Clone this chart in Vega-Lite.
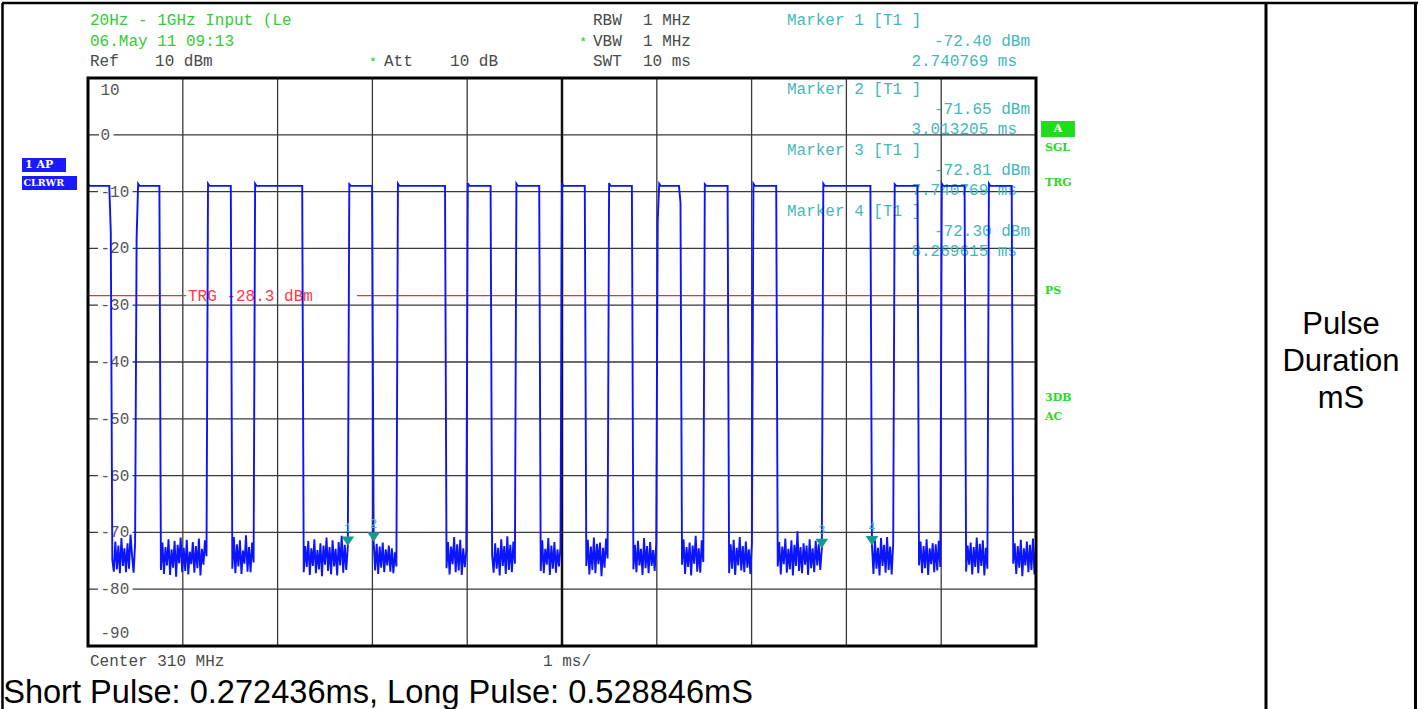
{
  "$schema": "https://vega.github.io/schema/vega-lite/v6.json",
  "width": 948,
  "height": 568,
  "autosize": {"type": "none"},
  "padding": {"left": 88, "top": 78, "right": 386, "bottom": 63},
  "background": "white",
  "config": {"view": {"stroke": null}},
  "data": {"values": [{}]},
  "datasets": {
    "trace": [
      {"t":0,"p":-8.6},{"t":0.016,"p":-9.0},{"t":0.2244,"p":-9.0},{"t":0.2404,"p":-17.2},
      {"t":0.2564,"p":-74.8},{"t":0.2724,"p":-76.9},{"t":0.2885,"p":-71.6},{"t":0.3045,"p":-76.5},{"t":0.3205,"p":-72.3},{"t":0.3365,"p":-77.2},{"t":0.3526,"p":-71.0},{"t":0.3686,"p":-75.9},{"t":0.3846,"p":-72.8},{"t":0.4006,"p":-77.0},{"t":0.4167,"p":-71.9},{"t":0.4327,"p":-76.4},{"t":0.4487,"p":-70.4},{"t":0.4647,"p":-74.1},{"t":0.4808,"p":-77.1},{"t":0.4968,"p":-72.0},
      {"t":0.5128,"p":-18.2},{"t":0.5288,"p":-8.6},{"t":0.5449,"p":-9.0},{"t":0.7532,"p":-9.0},
      {"t":0.7692,"p":-76.6},{"t":0.7853,"p":-71.8},{"t":0.8013,"p":-77.3},{"t":0.8173,"p":-72.6},{"t":0.8333,"p":-75.8},{"t":0.8494,"p":-71.2},{"t":0.8654,"p":-77.5},{"t":0.8814,"p":-73.0},{"t":0.8974,"p":-76.2},{"t":0.9135,"p":-71.5},{"t":0.9295,"p":-77.8},{"t":0.9455,"p":-72.2},{"t":0.9615,"p":-75.4},{"t":0.9776,"p":-70.9},{"t":0.9936,"p":-77.0},{"t":1.0096,"p":-72.7},{"t":1.0256,"p":-76.8},{"t":1.0417,"p":-71.3},{"t":1.0577,"p":-77.4},{"t":1.0737,"p":-73.4},{"t":1.0897,"p":-75.6},{"t":1.1058,"p":-71.7},{"t":1.1218,"p":-77.1},{"t":1.1378,"p":-72.4},{"t":1.1538,"p":-76.3},{"t":1.1699,"p":-71.1},{"t":1.1859,"p":-77.6},{"t":1.2019,"p":-72.9},{"t":1.2179,"p":-75.7},{"t":1.234,"p":-71.4},{"t":1.25,"p":-74.2},
      {"t":1.266,"p":-8.6},{"t":1.2821,"p":-9.0},{"t":1.5064,"p":-9.0},
      {"t":1.5224,"p":-76.4},{"t":1.5385,"p":-70.8},{"t":1.5545,"p":-77.2},{"t":1.5705,"p":-72.1},{"t":1.5865,"p":-76.0},{"t":1.6026,"p":-71.4},{"t":1.6186,"p":-77.3},{"t":1.6346,"p":-73.2},{"t":1.6506,"p":-75.5},{"t":1.6667,"p":-70.5},{"t":1.6827,"p":-76.9},{"t":1.6987,"p":-72.6},{"t":1.7147,"p":-77.0},{"t":1.7308,"p":-71.8},{"t":1.7468,"p":-75.3},
      {"t":1.7628,"p":-8.6},{"t":1.7788,"p":-9.0},{"t":2.2596,"p":-9.0},
      {"t":2.2756,"p":-77.0},{"t":2.2917,"p":-72.4},{"t":2.3077,"p":-76.1},{"t":2.3237,"p":-71.5},{"t":2.3397,"p":-77.5},{"t":2.3558,"p":-72.8},{"t":2.3718,"p":-75.9},{"t":2.3878,"p":-71.2},{"t":2.4038,"p":-77.2},{"t":2.4199,"p":-73.1},{"t":2.4359,"p":-76.5},{"t":2.4519,"p":-71.9},{"t":2.4679,"p":-77.7},{"t":2.484,"p":-72.3},{"t":2.5,"p":-75.7},{"t":2.516,"p":-70.9},{"t":2.5321,"p":-76.8},{"t":2.5481,"p":-72.6},{"t":2.5641,"p":-77.4},{"t":2.5801,"p":-71.4},{"t":2.5962,"p":-76.0},{"t":2.6122,"p":-72.9},{"t":2.6282,"p":-77.6},{"t":2.6442,"p":-71.7},{"t":2.6603,"p":-75.8},{"t":2.6763,"p":-70.6},{"t":2.6923,"p":-77.1},{"t":2.7083,"p":-72.2},{"t":2.7244,"p":-76.6},{"t":2.740769,"p":-72.40},
      {"t":2.7564,"p":-8.7},{"t":2.7724,"p":-9.0},{"t":2.9968,"p":-9.0},
      {"t":3.013205,"p":-71.65},{"t":3.0288,"p":-76.7},{"t":3.0449,"p":-72.0},{"t":3.0609,"p":-77.3},{"t":3.0769,"p":-72.5},{"t":3.0929,"p":-76.2},{"t":3.109,"p":-71.8},{"t":3.125,"p":-77.0},{"t":3.141,"p":-73.0},{"t":3.1571,"p":-75.8},{"t":3.1731,"p":-72.3},{"t":3.1891,"p":-76.9},{"t":3.2051,"p":-72.8},{"t":3.2212,"p":-77.2},{"t":3.2372,"p":-73.5},{"t":3.2532,"p":-76.0},
      {"t":3.2692,"p":-8.6},{"t":3.2853,"p":-9.0},{"t":3.766,"p":-9.0},
      {"t":3.7821,"p":-76.3},{"t":3.7981,"p":-71.7},{"t":3.8141,"p":-77.4},{"t":3.8301,"p":-72.5},{"t":3.8462,"p":-75.6},{"t":3.8622,"p":-70.8},{"t":3.8782,"p":-77.0},{"t":3.8942,"p":-72.1},{"t":3.9103,"p":-76.7},{"t":3.9263,"p":-71.3},{"t":3.9423,"p":-77.5},{"t":3.9583,"p":-72.8},{"t":3.9744,"p":-76.1},{"t":3.9904,"p":-73.3},
      {"t":4.0064,"p":-8.5},{"t":4.0224,"p":-9.0},{"t":4.2468,"p":-9.0},
      {"t":4.2628,"p":-74.0},{"t":4.2788,"p":-77.1},{"t":4.2949,"p":-71.9},{"t":4.3109,"p":-76.4},{"t":4.3269,"p":-72.7},{"t":4.3429,"p":-77.6},{"t":4.359,"p":-71.2},{"t":4.375,"p":-75.9},{"t":4.391,"p":-72.4},{"t":4.4071,"p":-77.3},{"t":4.4231,"p":-70.7},{"t":4.4391,"p":-76.6},{"t":4.4551,"p":-72.2},{"t":4.4712,"p":-77.0},{"t":4.4872,"p":-71.6},{"t":4.5032,"p":-75.5},
      {"t":4.5192,"p":-8.6},{"t":4.5353,"p":-9.0},{"t":4.7596,"p":-9.0},
      {"t":4.7756,"p":-76.8},{"t":4.7917,"p":-71.4},{"t":4.8077,"p":-77.2},{"t":4.8237,"p":-72.9},{"t":4.8397,"p":-75.7},{"t":4.8558,"p":-71.0},{"t":4.8718,"p":-77.5},{"t":4.8878,"p":-72.3},{"t":4.9038,"p":-76.4},{"t":4.9199,"p":-71.7},{"t":4.9359,"p":-77.1},{"t":4.9519,"p":-73.0},{"t":4.9679,"p":-76.0},{"t":4.984,"p":-72.6},
      {"t":5.0,"p":-8.5},{"t":5.016,"p":-9.0},{"t":5.2404,"p":-9.0},
      {"t":5.2564,"p":-75.9},{"t":5.2724,"p":-71.3},{"t":5.2885,"p":-77.4},{"t":5.3045,"p":-72.5},{"t":5.3205,"p":-76.6},{"t":5.3365,"p":-70.9},{"t":5.3526,"p":-77.2},{"t":5.3686,"p":-72.0},{"t":5.3846,"p":-75.6},{"t":5.4006,"p":-71.8},{"t":5.4167,"p":-77.7},{"t":5.4327,"p":-72.7},{"t":5.4487,"p":-76.2},{"t":5.4647,"p":-71.1},{"t":5.4808,"p":-74.6},
      {"t":5.4968,"p":-8.5},{"t":5.5128,"p":-9.0},{"t":5.7372,"p":-9.0},
      {"t":5.7532,"p":-76.5},{"t":5.7692,"p":-72.2},{"t":5.7853,"p":-77.0},{"t":5.8013,"p":-71.5},{"t":5.8173,"p":-75.8},{"t":5.8333,"p":-72.9},{"t":5.8494,"p":-77.5},{"t":5.8654,"p":-71.0},{"t":5.8814,"p":-76.3},{"t":5.8974,"p":-72.4},{"t":5.9135,"p":-77.2},{"t":5.9295,"p":-71.7},{"t":5.9455,"p":-75.9},{"t":5.9615,"p":-73.1},{"t":5.9776,"p":-76.8},{"t":5.9936,"p":-72.0},
      {"t":6.0096,"p":-15.2},{"t":6.0256,"p":-8.6},{"t":6.0417,"p":-9.0},{"t":6.234,"p":-9.0},{"t":6.25,"p":-12.0},
      {"t":6.266,"p":-75.7},{"t":6.2821,"p":-71.2},{"t":6.2981,"p":-77.3},{"t":6.3141,"p":-72.6},{"t":6.3301,"p":-76.1},{"t":6.3462,"p":-71.8},{"t":6.3622,"p":-77.6},{"t":6.3782,"p":-72.3},{"t":6.3942,"p":-75.5},{"t":6.4103,"p":-70.6},{"t":6.4263,"p":-76.9},{"t":6.4423,"p":-72.8},{"t":6.4583,"p":-77.1},{"t":6.4744,"p":-71.4},{"t":6.4904,"p":-75.2},
      {"t":6.5064,"p":-8.7},{"t":6.5224,"p":-9.0},{"t":6.7468,"p":-9.0},
      {"t":6.7628,"p":-77.2},{"t":6.7788,"p":-72.1},{"t":6.7949,"p":-76.4},{"t":6.8109,"p":-71.3},{"t":6.8269,"p":-77.5},{"t":6.8429,"p":-72.7},{"t":6.859,"p":-75.8},{"t":6.875,"p":-70.8},{"t":6.891,"p":-76.7},{"t":6.9071,"p":-72.4},{"t":6.9231,"p":-77.0},{"t":6.9391,"p":-71.6},{"t":6.9551,"p":-76.2},{"t":6.9712,"p":-73.0},{"t":6.9872,"p":-77.3},{"t":7.0032,"p":-71.9},
      {"t":7.0192,"p":-8.6},{"t":7.0353,"p":-9.0},{"t":7.2596,"p":-9.0},
      {"t":7.2756,"p":-76.0},{"t":7.2917,"p":-71.7},{"t":7.3077,"p":-77.4},{"t":7.3237,"p":-72.5},{"t":7.3397,"p":-75.6},{"t":7.3558,"p":-71.1},{"t":7.3718,"p":-77.1},{"t":7.3878,"p":-72.9},{"t":7.4038,"p":-76.5},{"t":7.4199,"p":-71.4},{"t":7.4359,"p":-77.6},{"t":7.4519,"p":-72.2},{"t":7.4679,"p":-75.9},{"t":7.484,"p":-69.8},{"t":7.5,"p":-76.8},{"t":7.516,"p":-72.6},{"t":7.5321,"p":-77.2},{"t":7.5481,"p":-71.9},{"t":7.5641,"p":-75.7},{"t":7.5801,"p":-72.3},{"t":7.5962,"p":-77.5},{"t":7.6122,"p":-71.2},{"t":7.6282,"p":-76.3},{"t":7.6442,"p":-72.8},{"t":7.6603,"p":-77.0},{"t":7.6763,"p":-71.5},{"t":7.6923,"p":-75.8},{"t":7.7083,"p":-72.1},{"t":7.7244,"p":-76.6},{"t":7.740769,"p":-72.81},
      {"t":7.7564,"p":-8.6},{"t":7.7724,"p":-9.0},{"t":8.2532,"p":-9.0},
      {"t":8.269615,"p":-72.30},{"t":8.2853,"p":-77.3},{"t":8.3013,"p":-71.4},{"t":8.3173,"p":-76.4},{"t":8.3333,"p":-72.7},{"t":8.3494,"p":-77.6},{"t":8.3654,"p":-71.0},{"t":8.3814,"p":-75.9},{"t":8.3974,"p":-72.2},{"t":8.4135,"p":-77.1},{"t":8.4295,"p":-70.8},{"t":8.4455,"p":-76.6},{"t":8.4615,"p":-72.5},{"t":8.4776,"p":-77.4},{"t":8.4936,"p":-71.9},
      {"t":8.5096,"p":-8.7},{"t":8.5256,"p":-9.0},{"t":8.75,"p":-9.0},
      {"t":8.766,"p":-75.8},{"t":8.7821,"p":-71.6},{"t":8.7981,"p":-77.2},{"t":8.8141,"p":-72.4},{"t":8.8301,"p":-76.3},{"t":8.8462,"p":-71.2},{"t":8.8622,"p":-77.5},{"t":8.8782,"p":-72.8},{"t":8.8942,"p":-75.6},{"t":8.9103,"p":-71.9},{"t":8.9263,"p":-77.0},{"t":8.9423,"p":-72.1},{"t":8.9583,"p":-76.7},{"t":8.9744,"p":-71.5},{"t":8.9904,"p":-76.1},
      {"t":9.0064,"p":-8.6},{"t":9.0224,"p":-9.0},{"t":9.2468,"p":-9.0},
      {"t":9.2628,"p":-76.9},{"t":9.2788,"p":-72.3},{"t":9.2949,"p":-75.7},{"t":9.3109,"p":-71.8},{"t":9.3269,"p":-77.4},{"t":9.3429,"p":-72.6},{"t":9.359,"p":-76.1},{"t":9.375,"p":-70.9},{"t":9.391,"p":-77.2},{"t":9.4071,"p":-72.0},{"t":9.4231,"p":-75.9},{"t":9.4391,"p":-71.4},{"t":9.4551,"p":-77.6},{"t":9.4712,"p":-72.7},{"t":9.4872,"p":-76.4},
      {"t":9.5032,"p":-8.6},{"t":9.5192,"p":-9.0},{"t":9.7436,"p":-9.0},
      {"t":9.7596,"p":-75.5},{"t":9.7756,"p":-71.9},{"t":9.7917,"p":-77.3},{"t":9.8077,"p":-72.4},{"t":9.8237,"p":-76.2},{"t":9.8397,"p":-71.3},{"t":9.8558,"p":-77.7},{"t":9.8718,"p":-72.8},{"t":9.8878,"p":-75.8},{"t":9.9038,"p":-71.6},{"t":9.9199,"p":-77.0},{"t":9.9359,"p":-72.2},{"t":9.9519,"p":-76.6},{"t":9.9679,"p":-71.1},{"t":9.984,"p":-77.4},{"t":10.0,"p":-72.5}
    ],
    "markers": [
      {"m": "1", "t": 2.740769, "p": -72.40},
      {"m": "2", "t": 3.013205, "p": -71.65},
      {"m": "3", "t": 7.740769, "p": -72.81},
      {"m": "4", "t": 8.269615, "p": -72.30}
    ],
    "vgrid": [{"g": 1}, {"g": 2}, {"g": 3}, {"g": 4}, {"g": 6}, {"g": 7}, {"g": 8}, {"g": 9}],
    "hgrid": [{"v": 0}, {"v": -10}, {"v": -20}, {"v": -30}, {"v": -40}, {"v": -50}, {"v": -60}, {"v": -70}, {"v": -80}]
  },
  "layer": [
    {
      "data": {"name": "vgrid"},
      "mark": {"type": "rule", "color": "#3a3a3a", "strokeWidth": 1.3},
      "encoding": {
        "x": {"field": "g", "type": "quantitative", "scale": {"domain": [0, 10], "nice": false, "zero": false}, "axis": null},
        "y": {"datum": -90, "scale": {"domain": [-90, 10], "nice": false, "zero": false}, "axis": null},
        "y2": {"datum": 10}
      }
    },
    {
      "data": {"name": "hgrid"},
      "mark": {"type": "rule", "color": "#3a3a3a", "strokeWidth": 1.3},
      "encoding": {"y": {"field": "v", "type": "quantitative"}, "x": {"datum": 0}, "x2": {"datum": 10}}
    },
    {
      "mark": {"type": "rule", "color": "#111111", "strokeWidth": 2.5},
      "encoding": {"x": {"datum": 5}, "y": {"datum": -90}, "y2": {"datum": 10}}
    },
    {
      "data": {"name": "hgrid"},
      "transform": [{"filter": "datum.v < 0"}],
      "mark": {"type": "rule", "color": "white", "strokeWidth": 4},
      "encoding": {"y": {"field": "v", "type": "quantitative"}, "x": {"datum": 0.105}, "x2": {"datum": 0.47}}
    },
    {
      "mark": {"type": "rule", "color": "white", "strokeWidth": 4},
      "encoding": {"y": {"datum": 0}, "x": {"datum": 0.116}, "x2": {"datum": 0.27}}
    },
    {
      "data": {"name": "hgrid"},
      "transform": [{"calculate": "datum.v == 0 ? '0' : '-' + (-datum.v)", "as": "lab"}],
      "mark": {"type": "text", "align": "left", "baseline": "middle", "font": "Liberation Mono", "fontSize": 16, "color": "#555555"},
      "encoding": {"y": {"field": "v", "type": "quantitative"}, "x": {"datum": 0.132}, "text": {"field": "lab"}}
    },
    {
      "mark": {"type": "text", "align": "left", "baseline": "middle", "font": "Liberation Mono", "fontSize": 16, "color": "#555555"},
      "encoding": {"x": {"datum": 0.132}, "y": {"datum": 7.89}, "text": {"value": "10"}}
    },
    {
      "mark": {"type": "text", "align": "left", "baseline": "middle", "font": "Liberation Mono", "fontSize": 16, "color": "#555555"},
      "encoding": {"x": {"datum": 0.132}, "y": {"datum": -87.71}, "text": {"value": "-90"}}
    },
    {"mark": {"type": "text", "align": "left", "baseline": "middle", "font": "Liberation Mono", "fontSize": 16, "color": "#44b8b8"}, "encoding": {"x": {"datum": 7.373}, "y": {"datum": 8.06}, "text": {"value": "Marker 2 [T1 ]"}}},
    {"mark": {"type": "text", "align": "right", "baseline": "middle", "font": "Liberation Mono", "fontSize": 16, "color": "#44b8b8"}, "encoding": {"x": {"datum": 9.937}, "y": {"datum": 4.54}, "text": {"value": "-71.65 dBm"}}},
    {"mark": {"type": "text", "align": "right", "baseline": "middle", "font": "Liberation Mono", "fontSize": 16, "color": "#44b8b8"}, "encoding": {"x": {"datum": 9.8}, "y": {"datum": 1.02}, "text": {"value": "3.013205 ms"}}},
    {"mark": {"type": "text", "align": "left", "baseline": "middle", "font": "Liberation Mono", "fontSize": 16, "color": "#44b8b8"}, "encoding": {"x": {"datum": 7.373}, "y": {"datum": -2.68}, "text": {"value": "Marker 3 [T1 ]"}}},
    {"mark": {"type": "text", "align": "right", "baseline": "middle", "font": "Liberation Mono", "fontSize": 16, "color": "#44b8b8"}, "encoding": {"x": {"datum": 9.937}, "y": {"datum": -6.2}, "text": {"value": "-72.81 dBm"}}},
    {"mark": {"type": "text", "align": "right", "baseline": "middle", "font": "Liberation Mono", "fontSize": 16, "color": "#44b8b8"}, "encoding": {"x": {"datum": 9.8}, "y": {"datum": -9.72}, "text": {"value": "7.740769 ms"}}},
    {"mark": {"type": "text", "align": "left", "baseline": "middle", "font": "Liberation Mono", "fontSize": 16, "color": "#44b8b8"}, "encoding": {"x": {"datum": 7.373}, "y": {"datum": -13.42}, "text": {"value": "Marker 4 [T1 ]"}}},
    {"mark": {"type": "text", "align": "right", "baseline": "middle", "font": "Liberation Mono", "fontSize": 16, "color": "#44b8b8"}, "encoding": {"x": {"datum": 9.937}, "y": {"datum": -16.94}, "text": {"value": "-72.30 dBm"}}},
    {"mark": {"type": "text", "align": "right", "baseline": "middle", "font": "Liberation Mono", "fontSize": 16, "color": "#44b8b8"}, "encoding": {"x": {"datum": 9.8}, "y": {"datum": -20.46}, "text": {"value": "8.269615 ms"}}},
    {"mark": {"type": "rule", "color": "#ff2a2a", "strokeWidth": 1.3}, "encoding": {"x": {"datum": 0}, "x2": {"datum": 1.034}, "y": {"datum": -28.3}}},
    {"mark": {"type": "rule", "color": "#ff2a2a", "strokeWidth": 1.3}, "encoding": {"x": {"datum": 2.838}, "x2": {"datum": 10}, "y": {"datum": -28.3}}},
    {"mark": {"type": "text", "align": "left", "baseline": "middle", "font": "Liberation Mono", "fontSize": 16, "color": "#ff3b3b"}, "encoding": {"x": {"datum": 1.055}, "y": {"datum": -28.3}, "text": {"value": "TRG -28.3 dBm"}}},
    {
      "data": {"name": "trace"},
      "mark": {"type": "line", "color": "#0a14ff", "strokeWidth": 1.9, "strokeJoin": "miter"},
      "encoding": {"x": {"field": "t", "type": "quantitative"}, "y": {"field": "p", "type": "quantitative"}}
    },
    {
      "data": {"name": "markers"},
      "mark": {"type": "point", "shape": "M-1,-1.5L1,-1.5L0,0Z", "filled": true, "size": 160, "color": "#169a8e", "opacity": 1},
      "encoding": {"x": {"field": "t", "type": "quantitative"}, "y": {"field": "p", "type": "quantitative"}}
    },
    {
      "data": {"name": "markers"},
      "mark": {"type": "text", "baseline": "bottom", "dy": -11, "font": "Liberation Mono", "fontSize": 12, "color": "#44b8b8"},
      "encoding": {"x": {"field": "t", "type": "quantitative"}, "y": {"field": "p", "type": "quantitative"}, "text": {"field": "m"}}
    },
    {
      "mark": {"type": "rect", "filled": false, "stroke": "#000000", "strokeWidth": 3},
      "encoding": {"x": {"datum": 0}, "x2": {"datum": 10}, "y": {"datum": -90}, "y2": {"datum": 10}}
    },
    {"mark": {"type": "text", "align": "left", "baseline": "middle", "font": "Liberation Mono", "fontSize": 16, "color": "#33cc33"}, "encoding": {"x": {"datum": 0.021}, "y": {"datum": 20.21}, "text": {"value": "20Hz - 1GHz Input (Le"}}},
    {"mark": {"type": "text", "align": "left", "baseline": "middle", "font": "Liberation Mono", "fontSize": 16, "color": "#33cc33"}, "encoding": {"x": {"datum": 0.021}, "y": {"datum": 16.51}, "text": {"value": "06.May 11 09:13"}}},
    {"mark": {"type": "text", "align": "left", "baseline": "middle", "font": "Liberation Mono", "fontSize": 16, "color": "#4a4a4a"}, "encoding": {"x": {"datum": 0.021}, "y": {"datum": 12.99}, "text": {"value": "Ref"}}},
    {"mark": {"type": "text", "align": "left", "baseline": "middle", "font": "Liberation Mono", "fontSize": 16, "color": "#4a4a4a"}, "encoding": {"x": {"datum": 0.707}, "y": {"datum": 12.99}, "text": {"value": "10 dBm"}}},
    {"mark": {"type": "text", "align": "center", "baseline": "middle", "font": "Liberation Mono", "fontSize": 13, "color": "#22cc22"}, "encoding": {"x": {"datum": 3.006}, "y": {"datum": 12.8}, "text": {"value": "*"}}},
    {"mark": {"type": "text", "align": "left", "baseline": "middle", "font": "Liberation Mono", "fontSize": 16, "color": "#4a4a4a"}, "encoding": {"x": {"datum": 3.122}, "y": {"datum": 12.99}, "text": {"value": "Att"}}},
    {"mark": {"type": "text", "align": "left", "baseline": "middle", "font": "Liberation Mono", "fontSize": 16, "color": "#4a4a4a"}, "encoding": {"x": {"datum": 3.819}, "y": {"datum": 12.99}, "text": {"value": "10 dB"}}},
    {"mark": {"type": "text", "align": "left", "baseline": "middle", "font": "Liberation Mono", "fontSize": 16, "color": "#4a4a4a"}, "encoding": {"x": {"datum": 5.327}, "y": {"datum": 20.21}, "text": {"value": "RBW"}}},
    {"mark": {"type": "text", "align": "left", "baseline": "middle", "font": "Liberation Mono", "fontSize": 16, "color": "#4a4a4a"}, "encoding": {"x": {"datum": 5.854}, "y": {"datum": 20.21}, "text": {"value": "1 MHz"}}},
    {"mark": {"type": "text", "align": "center", "baseline": "middle", "font": "Liberation Mono", "fontSize": 13, "color": "#22cc22"}, "encoding": {"x": {"datum": 5.222}, "y": {"datum": 16.3}, "text": {"value": "*"}}},
    {"mark": {"type": "text", "align": "left", "baseline": "middle", "font": "Liberation Mono", "fontSize": 16, "color": "#4a4a4a"}, "encoding": {"x": {"datum": 5.327}, "y": {"datum": 16.51}, "text": {"value": "VBW"}}},
    {"mark": {"type": "text", "align": "left", "baseline": "middle", "font": "Liberation Mono", "fontSize": 16, "color": "#4a4a4a"}, "encoding": {"x": {"datum": 5.854}, "y": {"datum": 16.51}, "text": {"value": "1 MHz"}}},
    {"mark": {"type": "text", "align": "left", "baseline": "middle", "font": "Liberation Mono", "fontSize": 16, "color": "#4a4a4a"}, "encoding": {"x": {"datum": 5.327}, "y": {"datum": 12.99}, "text": {"value": "SWT"}}},
    {"mark": {"type": "text", "align": "left", "baseline": "middle", "font": "Liberation Mono", "fontSize": 16, "color": "#4a4a4a"}, "encoding": {"x": {"datum": 5.854}, "y": {"datum": 12.99}, "text": {"value": "10 ms"}}},
    {"mark": {"type": "text", "align": "left", "baseline": "middle", "font": "Liberation Mono", "fontSize": 16, "color": "#44b8b8"}, "encoding": {"x": {"datum": 7.373}, "y": {"datum": 20.21}, "text": {"value": "Marker 1 [T1 ]"}}},
    {"mark": {"type": "text", "align": "right", "baseline": "middle", "font": "Liberation Mono", "fontSize": 16, "color": "#44b8b8"}, "encoding": {"x": {"datum": 9.937}, "y": {"datum": 16.51}, "text": {"value": "-72.40 dBm"}}},
    {"mark": {"type": "text", "align": "right", "baseline": "middle", "font": "Liberation Mono", "fontSize": 16, "color": "#44b8b8"}, "encoding": {"x": {"datum": 9.8}, "y": {"datum": 12.99}, "text": {"value": "2.740769 ms"}}},
    {"mark": {"type": "text", "align": "left", "baseline": "middle", "font": "Liberation Mono", "fontSize": 16, "color": "#4a4a4a"}, "encoding": {"x": {"datum": 0.021}, "y": {"datum": -92.64}, "text": {"value": "Center 310 MHz"}}},
    {"mark": {"type": "text", "align": "left", "baseline": "middle", "font": "Liberation Mono", "fontSize": 16, "color": "#4a4a4a"}, "encoding": {"x": {"datum": 4.8}, "y": {"datum": -92.64}, "text": {"value": "1 ms/"}}},
    {"mark": {"type": "rect", "color": "#1fdc1f"}, "encoding": {"x": {"datum": 10.053}, "x2": {"datum": 10.411}, "y": {"datum": 2.43}, "y2": {"datum": -0.387}}},
    {"mark": {"type": "text", "align": "center", "baseline": "middle", "font": "DejaVu Serif", "fontWeight": "bold", "fontSize": 11, "color": "white"}, "encoding": {"x": {"datum": 10.232}, "y": {"datum": 1.02}, "text": {"value": "A"}}},
    {"mark": {"type": "text", "align": "left", "baseline": "middle", "font": "DejaVu Serif", "fontWeight": "bold", "fontSize": 11, "color": "#22dd22"}, "encoding": {"x": {"datum": 10.095}, "y": {"datum": -2.32}, "text": {"value": "SGL"}}},
    {"mark": {"type": "text", "align": "left", "baseline": "middle", "font": "DejaVu Serif", "fontWeight": "bold", "fontSize": 11, "color": "#22dd22"}, "encoding": {"x": {"datum": 10.095}, "y": {"datum": -8.49}, "text": {"value": "TRG"}}},
    {"mark": {"type": "text", "align": "left", "baseline": "middle", "font": "DejaVu Serif", "fontWeight": "bold", "fontSize": 11, "color": "#22dd22"}, "encoding": {"x": {"datum": 10.095}, "y": {"datum": -27.5}, "text": {"value": "PS"}}},
    {"mark": {"type": "text", "align": "left", "baseline": "middle", "font": "DejaVu Serif", "fontWeight": "bold", "fontSize": 11, "color": "#22dd22"}, "encoding": {"x": {"datum": 10.095}, "y": {"datum": -46.34}, "text": {"value": "3DB"}}},
    {"mark": {"type": "text", "align": "left", "baseline": "middle", "font": "DejaVu Serif", "fontWeight": "bold", "fontSize": 11, "color": "#22dd22"}, "encoding": {"x": {"datum": 10.095}, "y": {"datum": -49.68}, "text": {"value": "AC"}}},
    {"mark": {"type": "rect", "color": "#1a1aff"}, "encoding": {"x": {"datum": -0.696}, "x2": {"datum": -0.232}, "y": {"datum": -4.08}, "y2": {"datum": -6.55}}},
    {"mark": {"type": "rect", "color": "#1a1aff"}, "encoding": {"x": {"datum": -0.696}, "x2": {"datum": -0.116}, "y": {"datum": -7.25}, "y2": {"datum": -9.72}}},
    {"mark": {"type": "text", "align": "left", "baseline": "middle", "font": "DejaVu Serif", "fontWeight": "bold", "fontSize": 11, "color": "white"}, "encoding": {"x": {"datum": -0.665}, "y": {"datum": -5.32}, "text": {"value": "1 AP"}}},
    {"mark": {"type": "text", "align": "left", "baseline": "middle", "font": "DejaVu Serif", "fontWeight": "bold", "fontSize": 9.5, "color": "white"}, "encoding": {"x": {"datum": -0.68}, "y": {"datum": -8.49}, "text": {"value": "CLRWR"}}},
    {"mark": {"type": "rule", "color": "#000000", "strokeWidth": 2.5}, "encoding": {"x": {"datum": -0.907}, "x2": {"datum": 14.03}, "y": {"datum": 23.2}}},
    {"mark": {"type": "rule", "color": "#000000", "strokeWidth": 2.5}, "encoding": {"x": {"datum": -0.902}, "y": {"datum": 23.2}, "y2": {"datum": -101.2}}},
    {"mark": {"type": "rule", "color": "#000000", "strokeWidth": 3}, "encoding": {"x": {"datum": 12.426}, "y": {"datum": 23.2}, "y2": {"datum": -101.2}}},
    {"mark": {"type": "rule", "color": "#000000", "strokeWidth": 3}, "encoding": {"x": {"datum": 14.003}, "y": {"datum": 23.2}, "y2": {"datum": -101.2}}},
    {"mark": {"type": "text", "align": "left", "baseline": "alphabetic", "font": "Liberation Sans", "fontSize": 32.6, "color": "#000000"}, "encoding": {"x": {"datum": -0.895}, "y": {"datum": -100.0}, "text": {"value": "Short Pulse: 0.272436ms, Long Pulse: 0.528846mS"}}},
    {"mark": {"type": "text", "align": "center", "baseline": "middle", "font": "Liberation Sans", "fontSize": 31, "lineHeight": 37, "lineBreak": "\n", "color": "#000000"}, "encoding": {"x": {"datum": 13.217}, "y": {"datum": -33.5}, "text": {"value": "Pulse\nDuration\nmS"}}}
  ]
}
